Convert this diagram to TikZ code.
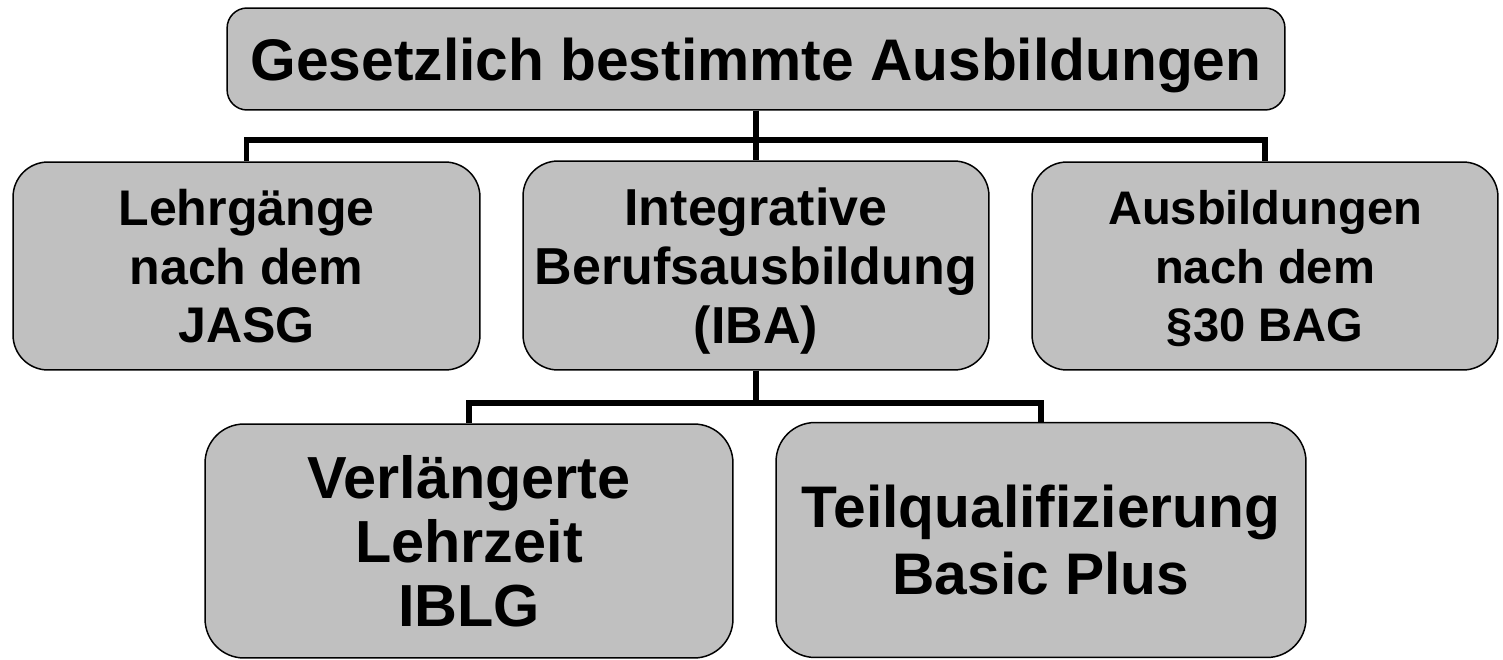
\documentclass[tikz,border=0pt]{standalone}
\usepackage{fontspec}
\setmainfont{Liberation Sans}
\definecolor{boxgray}{HTML}{C0C0C0}

\begin{document}
\begin{tikzpicture}[x=0.02cm, y=-0.02cm,
    box/.style={draw=black, line width=0.85pt, fill=boxgray, align=center, inner sep=0pt, text depth=0pt},
    link/.style={line width=3.4pt}]

    \useasboundingbox (0,0) rectangle (1503,659);

    \node[box, rounded corners=0.4cm, minimum width=21.16cm, minimum height=2.04cm, font=\bfseries\fontsize{33.4}{38}\selectfont] (a) at (756, 59) {Gesetzlich bestimmte Ausbildungen};

    \node[box, rounded corners=0.7cm, minimum width=9.34cm, minimum height=4.16cm, font=\bfseries\fontsize{28.5}{33.4}\selectfont] (b) at (246.5, 266) {Lehrgänge\\nach dem\\JASG};
    \node[box, rounded corners=0.7cm, minimum width=9.32cm, minimum height=4.18cm, font=\bfseries\fontsize{29.6}{33.4}\selectfont] (c) at (756, 265.5) {Integrative\\Berufsausbildung\\(IBA)};
    \node[box, rounded corners=0.7cm, minimum width=9.32cm, minimum height=4.16cm, font=\bfseries\fontsize{26.8}{33.4}\selectfont] (d) at (1265, 266) {Ausbildungen\\nach dem\\§30 BAG};

    \node[box, rounded corners=0.78cm, minimum width=10.56cm, minimum height=4.68cm, font=\bfseries\fontsize{33.8}{36.6}\selectfont] (e) at (469, 541) {Verlängerte\\Lehrzeit\\IBLG};
    \node[box, rounded corners=0.78cm, minimum width=10.6cm, minimum height=4.7cm, font=\bfseries\fontsize{33.4}{38}\selectfont] (f) at (1041, 540) {Teilqualifizierung\\Basic Plus};

    \draw [link] (a.south) -- (c.north);
    \draw [link] (a.south) -- ++(0, 29) -| (b.north);
    \draw [link] (a.south) -- ++(0, 29) -| (d.north);
    \draw [link] (c.south) -- ++(0, 32) -| (e.north);
    \draw [link] (c.south) -- ++(0, 32) -| (f.north);

\end{tikzpicture}
\end{document}
